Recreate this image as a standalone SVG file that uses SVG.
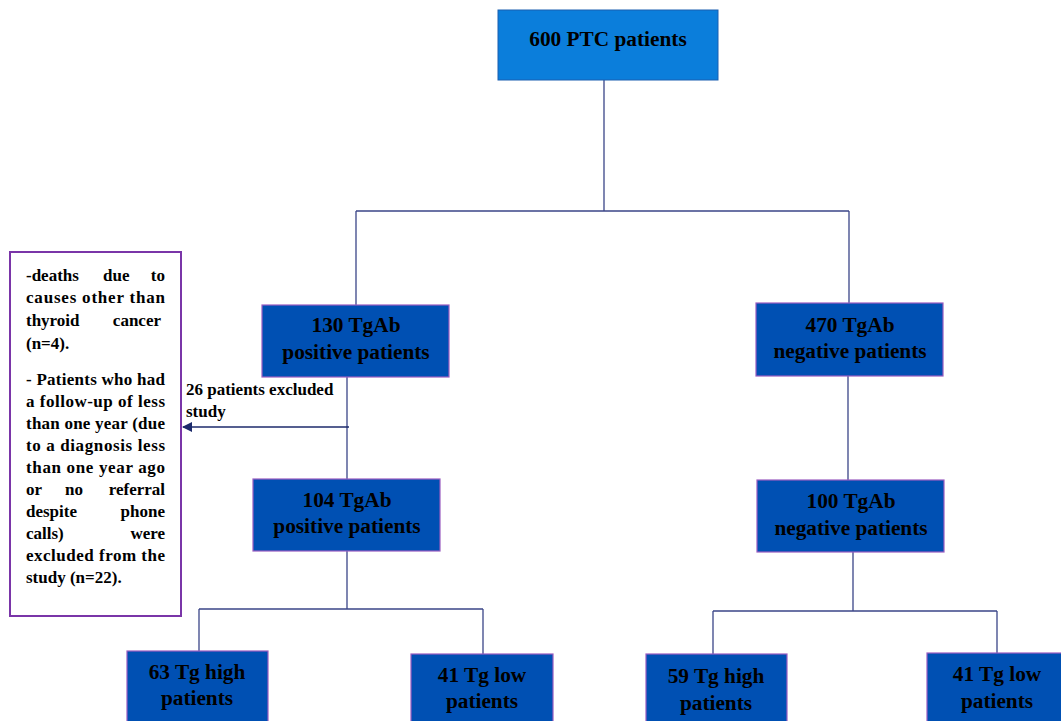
<svg xmlns="http://www.w3.org/2000/svg" width="1061" height="721" viewBox="0 0 1061 721">
<defs>
<style>
.box{fill:#0050b3;stroke:#9a5cc0;stroke-width:1.2}
.top{fill:#0b7edb;stroke:#1a5fb0;stroke-width:1}
.t{font-family:"Liberation Serif","Times New Roman",serif;font-weight:bold;font-size:21.3px;fill:#000;text-anchor:middle}
.n{font-family:"Liberation Serif","Times New Roman",serif;font-weight:bold;font-size:17px;fill:#000}
.e{text-anchor:end}
.c{fill:none;stroke:#3b4688;stroke-width:1.3}
</style>
<marker id="ah" viewBox="0 0 10 10" refX="9" refY="5" markerWidth="10" markerHeight="10" markerUnits="userSpaceOnUse" orient="auto">
<path d="M0,0 L10,5 L0,10 z" fill="#1c2a6b"/>
</marker>
</defs>
<rect width="1061" height="721" fill="#fff"/>
<g id="connectors">
<path class="c" d="M604,80 V211 M356,211 H849 M356,211 V305 M849,211 V303"/>
<path class="c" d="M347,377 V479 M848,376 V480"/>
<path class="c" d="M347,551 V609 M199,609 H483 M199,609 V651 M483,609 V654"/>
<path class="c" d="M853,551 V611 M713,611 H997 M713,611 V654 M997,611 V653"/>
<path d="M349,427 H183" fill="none" stroke="#1c2a6b" stroke-width="1.4" marker-end="url(#ah)"/>
<text class="n" x="186" y="395">26 patients excluded</text>
<text class="n" x="186" y="417">study</text>
</g>
<g id="n600">
<rect class="top" x="498" y="10" width="220" height="70"/>
<text class="t" x="608" y="46">600 PTC patients</text>
</g>
<g id="n130">
<rect class="box" x="262" y="305" width="187" height="72"/>
<text class="t" x="356" y="332">130 TgAb</text>
<text class="t" x="356" y="359">positive patients</text>
</g>
<g id="n470">
<rect class="box" x="756" y="303" width="187" height="73"/>
<text class="t" x="850" y="332">470 TgAb</text>
<text class="t" x="850" y="358">negative patients</text>
</g>
<g id="n104">
<rect class="box" x="253" y="479" width="187" height="72"/>
<text class="t" x="347" y="507">104 TgAb</text>
<text class="t" x="347" y="533">positive patients</text>
</g>
<g id="n100">
<rect class="box" x="757" y="480" width="187" height="72"/>
<text class="t" x="851" y="508">100 TgAb</text>
<text class="t" x="851" y="535">negative patients</text>
</g>
<g id="n63">
<rect class="box" x="127" y="651" width="141" height="75"/>
<text class="t" x="197" y="679">63 Tg high</text>
<text class="t" x="197" y="705">patients</text>
</g>
<g id="n41a">
<rect class="box" x="411" y="654" width="142" height="72"/>
<text class="t" x="482" y="682">41 Tg low</text>
<text class="t" x="482" y="708">patients</text>
</g>
<g id="n59">
<rect class="box" x="646" y="654" width="141" height="72"/>
<text class="t" x="716" y="683">59 Tg high</text>
<text class="t" x="716" y="710">patients</text>
</g>
<g id="n41b">
<rect class="box" x="927" y="653" width="140" height="73"/>
<text class="t" x="997" y="681">41 Tg low</text>
<text class="t" x="997" y="708">patients</text>
</g>
<g id="excluded">
<rect x="10" y="252" width="171" height="364" fill="#fff" stroke="#7a35a8" stroke-width="2"/>
<text class="n" x="26" y="281">-deaths</text>
<text class="n" x="103" y="281">due</text>
<text class="n e" x="165" y="281">to</text>
<text class="n" x="26" y="303" textLength="139" lengthAdjust="spacing">causes other than</text>
<text class="n" x="26" y="326">thyroid</text>
<text class="n e" x="161" y="326">cancer</text>
<text class="n" x="26" y="349">(n=4).</text>
<text class="n" x="26" y="385" textLength="139" lengthAdjust="spacing">- Patients who had</text>
<text class="n" x="26" y="407" textLength="139" lengthAdjust="spacing">a follow-up of less</text>
<text class="n" x="26" y="429" textLength="139" lengthAdjust="spacing">than one year (due</text>
<text class="n" x="26" y="451" textLength="139" lengthAdjust="spacing">to a diagnosis less</text>
<text class="n" x="26" y="473" textLength="139" lengthAdjust="spacing">than one year ago</text>
<text class="n" x="26" y="495">or</text>
<text class="n" x="65" y="495">no</text>
<text class="n e" x="165" y="495">referral</text>
<text class="n" x="26" y="517">despite</text>
<text class="n e" x="165" y="517">phone</text>
<text class="n" x="26" y="539">calls)</text>
<text class="n e" x="165" y="539">were</text>
<text class="n" x="26" y="561" textLength="139" lengthAdjust="spacing">excluded from the</text>
<text class="n" x="26" y="583">study (n=22).</text>
</g>
</svg>
